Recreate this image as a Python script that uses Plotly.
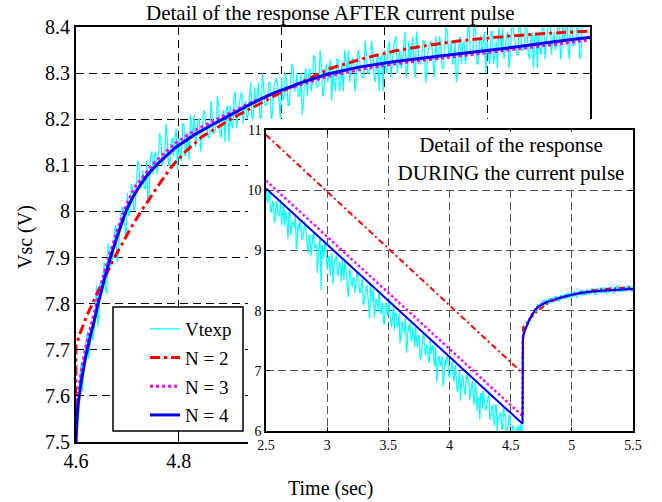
import numpy as np
import plotly.graph_objects as go

W, H = 662, 502
def px(x):
    return x / W
def py(y):
    return 1 - y / H

# ---------------- data ----------------
# measured terminal voltage (Vtexp) during the current pulse, samples every 0.015 s from 2.5 s
v_during = [
    9.99, 9.79, 10.00, 9.64, 9.80, 9.49, 9.79, 9.57, 9.84, 9.60,
    9.40, 9.63, 9.18, 9.63, 9.39, 9.46, 9.60, 9.18, 9.33, 9.43,
    9.19, 9.48, 9.23, 8.95, 9.25, 9.03, 9.28, 9.05, 8.63, 9.13,
    8.34, 9.02, 9.17, 8.78, 8.87, 8.58, 8.96, 8.70, 8.84, 8.58,
    8.81, 8.47, 8.67, 8.85, 8.53, 8.22, 8.66, 8.39, 8.53, 8.42,
    8.60, 8.30, 8.45, 8.09, 8.32, 8.43, 8.08, 8.45, 8.14, 7.88,
    8.20, 7.97, 8.24, 7.98, 7.82, 8.11, 7.96, 8.18, 7.79, 7.90,
    7.67, 7.96, 7.76, 7.46, 7.83, 7.62, 7.88, 7.43, 7.66, 7.54,
    7.73, 7.40, 7.53, 7.60, 7.19, 7.40, 7.64, 7.26, 7.41, 7.13,
    7.28, 7.43, 7.07, 6.82, 7.25, 7.07, 7.25, 6.86, 7.09, 7.22,
    6.88, 7.07, 6.90, 7.10, 6.70, 6.87, 6.50, 6.93, 6.70, 6.80,
    6.86, 6.52, 6.73, 6.58, 6.81, 6.33, 6.54, 6.62, 6.37, 6.49,
    6.36, 6.57, 6.18, 6.40, 6.22, 6.42, 5.99, 6.21, 6.30, 6.03,
    6.26, 5.90, 6.10, 6.24, 5.91, 6.05, 5.81, 6.08, 5.87, 6.05,
]
# in-between samples (0.0075 s after each of the above)
v_during_mid = [
    9.84, 9.97, 9.64, 9.82, 9.46, 9.81, 9.59, 9.67, 9.42, 9.78,
    9.65, 9.42, 9.64, 9.25, 9.47, 9.38, 8.99, 9.43, 9.49, 9.18,
    9.28, 9.41, 9.07, 9.25, 8.90, 9.25, 9.03, 9.11, 8.85, 9.22,
    9.09, 8.86, 9.08, 8.68, 8.91, 8.82, 8.43, 8.87, 8.92, 8.61,
    8.72, 8.85, 8.51, 8.69, 8.33, 8.69, 8.47, 8.55, 8.29, 8.65,
    8.53, 8.30, 8.52, 8.12, 8.34, 8.25, 7.87, 8.31, 8.36, 8.05,
    8.15, 8.29, 7.95, 8.13, 7.77, 8.12, 7.91, 7.99, 7.73, 8.09,
    7.96, 7.73, 7.96, 7.56, 7.78, 7.69, 7.30, 7.75, 7.80, 7.49,
    7.59, 7.72, 7.39, 7.57, 7.21, 7.56, 7.34, 7.42, 7.17, 7.53,
    7.40, 7.17, 7.39, 7.00, 7.22, 7.13, 6.74, 7.18, 7.24, 6.93,
    7.03, 7.16, 6.82, 7.00, 6.65, 7.00, 6.78, 6.86, 6.60, 6.97,
    6.84, 6.61, 6.83, 6.43, 6.66, 6.57, 6.18, 6.62, 6.67, 6.36,
    6.47, 6.60, 6.26, 6.44, 6.08, 6.44, 6.22, 6.30, 6.04, 6.40,
    6.28, 6.05, 6.27, 5.87, 6.09, 6.00, 5.62, 6.06, 6.11, 5.80,
]
# measured terminal voltage after the pulse, samples every 0.005 s from 4.6 s
v_after = [
    7.52, 7.56, 7.67, 7.65, 7.72, 7.68, 7.75, 7.74, 7.84, 7.78,
    7.82, 7.89, 7.82, 7.91, 7.89, 7.96, 7.89, 7.97, 8.01, 7.97,
    8.04, 8.00, 8.05, 8.01, 8.11, 8.05, 8.09, 8.05, 8.02, 8.12,
    8.08, 8.13, 8.11, 8.16, 8.11, 8.19, 8.10, 8.15, 8.12, 8.18,
    8.16, 8.11, 8.19, 8.14, 8.11, 8.19, 8.21, 8.16, 8.20, 8.15,
    8.22, 8.18, 8.16, 8.21, 8.17, 8.25, 8.17, 8.21, 8.15, 8.23,
    8.23, 8.18, 8.26, 8.21, 8.25, 8.19, 8.24, 8.21, 8.28, 8.21,
    8.23, 8.28, 8.19, 8.27, 8.23, 8.28, 8.19, 8.27, 8.29, 8.24,
    8.29, 8.25, 8.28, 8.23, 8.32, 8.26, 8.30, 8.25, 8.21, 8.30,
    8.25, 8.31, 8.28, 8.33, 8.27, 8.35, 8.25, 8.31, 8.28, 8.33,
    8.31, 8.26, 8.33, 8.28, 8.26, 8.33, 8.35, 8.30, 8.33, 8.28,
    8.35, 8.30, 8.29, 8.34, 8.30, 8.37, 8.29, 8.33, 8.26, 8.34,
    8.35, 8.30, 8.37, 8.32, 8.37, 8.30, 8.35, 8.32, 8.39, 8.31,
    8.33, 8.38, 8.29, 8.36, 8.32, 8.37, 8.28, 8.35, 8.37, 8.32,
    8.38, 8.33, 8.36, 8.31, 8.40, 8.34, 8.37, 8.32, 8.28, 8.37,
    8.32, 8.37, 8.34, 8.40, 8.34, 8.42, 8.32, 8.37, 8.34, 8.39,
    8.37, 8.32, 8.39, 8.34, 8.31, 8.38, 8.40, 8.35, 8.39, 8.34,
    8.41, 8.36, 8.34, 8.39, 8.35, 8.42, 8.34, 8.38, 8.31, 8.39,
    8.39, 8.34, 8.41, 8.37, 8.41, 8.34, 8.39, 8.36, 8.43, 8.35,
    8.37, 8.42, 8.33, 8.40, 8.36, 8.41, 8.33, 8.40, 8.42,
]
# in-between samples after the pulse (0.0025 s after each of the above)
v_after_mid = [
    7.53, 7.64, 7.61, 7.69, 7.74, 7.72, 7.72, 7.79, 7.75, 7.85,
    7.85, 7.83, 7.93, 7.88, 7.91, 7.97, 7.91, 7.99, 8.00, 7.94,
    7.99, 8.06, 8.00, 8.06, 8.10, 8.06, 8.05, 8.11, 8.04, 8.13,
    8.12, 8.08, 8.17, 8.10, 8.12, 8.16, 8.10, 8.16, 8.16, 8.09,
    8.13, 8.19, 8.12, 8.17, 8.21, 8.16, 8.14, 8.20, 8.13, 8.21,
    8.19, 8.16, 8.24, 8.17, 8.19, 8.23, 8.16, 8.22, 8.22, 8.15,
    8.19, 8.25, 8.18, 8.23, 8.26, 8.22, 8.20, 8.25, 8.19, 8.27,
    8.25, 8.21, 8.30, 8.23, 8.24, 8.28, 8.22, 8.28, 8.27, 8.20,
    8.24, 8.30, 8.23, 8.28, 8.31, 8.27, 8.25, 8.30, 8.23, 8.31,
    8.30, 8.26, 8.34, 8.27, 8.28, 8.32, 8.26, 8.32, 8.31, 8.24,
    8.28, 8.33, 8.26, 8.32, 8.35, 8.30, 8.28, 8.33, 8.26, 8.34,
    8.32, 8.29, 8.37, 8.30, 8.31, 8.35, 8.28, 8.34, 8.33, 8.26,
    8.31, 8.36, 8.29, 8.35, 8.38, 8.33, 8.31, 8.36, 8.29, 8.37,
    8.35, 8.31, 8.39, 8.32, 8.33, 8.37, 8.30, 8.36, 8.36, 8.29,
    8.33, 8.38, 8.31, 8.36, 8.39, 8.34, 8.32, 8.37, 8.30, 8.38,
    8.36, 8.32, 8.40, 8.34, 8.35, 8.39, 8.32, 8.38, 8.37, 8.30,
    8.34, 8.39, 8.32, 8.37, 8.40, 8.35, 8.33, 8.38, 8.31, 8.40,
    8.38, 8.34, 8.42, 8.35, 8.36, 8.40, 8.33, 8.39, 8.38, 8.31,
    8.35, 8.41, 8.33, 8.39, 8.42, 8.37, 8.35, 8.40, 8.33, 8.41,
    8.39, 8.35, 8.43, 8.36, 8.37, 8.41, 8.34, 8.40,
]
t_during = 2.5 + 0.015 * np.arange(len(v_during))
t_during_mid = 2.5075 + 0.015 * np.arange(len(v_during_mid))
t_after = 4.6 + 0.005 * np.arange(len(v_after))
t_after_mid = 4.6025 + 0.005 * np.arange(len(v_after_mid))
t_all = np.concatenate([t_during, t_during_mid, t_after, t_after_mid])
v_all = np.concatenate([v_during, v_during_mid, v_after, v_after_mid])
order = np.argsort(t_all, kind="stable")
t_exp, v_exp = t_all[order], v_all[order]

# model N = 2
n2_t = [2.5, 4.597, 4.600, 4.610, 4.620, 4.632, 4.645, 4.660, 4.6745, 4.690,
        4.707, 4.7265, 4.745, 4.765, 4.788, 4.815, 4.845, 4.875, 4.905, 4.945,
        4.983, 5.030, 5.094, 5.160, 5.224, 5.290, 5.353, 5.450, 5.530, 5.600]
n2_v = [10.92, 6.96, 7.71, 7.742, 7.771, 7.800, 7.832, 7.866, 7.900, 7.930,
        7.965, 8.000, 8.031, 8.064, 8.100, 8.132, 8.162, 8.182, 8.203, 8.226,
        8.249, 8.276, 8.310, 8.332, 8.349, 8.361, 8.371, 8.381, 8.387, 8.391]
# model N = 3
n3_t = [2.5, 4.597, 4.600, 4.603, 4.606, 4.612, 4.620, 4.630, 4.640, 4.652,
        4.665, 4.680, 4.697, 4.715, 4.730, 4.746, 4.770, 4.795, 4.830, 4.865,
        4.900, 4.940, 4.983, 5.040, 5.090, 5.150, 5.220, 5.300, 5.353, 5.450,
        5.530, 5.600]
n3_v = [10.16, 6.25, 7.55, 7.59, 7.62, 7.665, 7.71, 7.755, 7.80, 7.855,
        7.905, 7.958, 8.012, 8.054, 8.075, 8.098, 8.125, 8.149, 8.175, 8.195,
        8.214, 8.236, 8.256, 8.276, 8.293, 8.307, 8.320, 8.331, 8.338, 8.351,
        8.362, 8.372]
# model N = 4
n4_t = [2.5, 4.597, 4.600, 4.602, 4.604, 4.6064, 4.610, 4.614, 4.618, 4.622,
        4.628, 4.635, 4.643, 4.650, 4.658, 4.667, 4.677, 4.687, 4.697, 4.710,
        4.723, 4.735, 4.746, 4.760, 4.777, 4.795, 4.830, 4.865, 4.900, 4.940,
        4.983, 5.040, 5.090, 5.150, 5.220, 5.300, 5.353, 5.450, 5.530, 5.600]
n4_v = [10.03, 6.12, 7.50, 7.55, 7.58, 7.60, 7.63, 7.655, 7.68, 7.70,
        7.73, 7.76, 7.80, 7.83, 7.865, 7.90, 7.935, 7.968, 8.00, 8.030,
        8.054, 8.073, 8.088, 8.104, 8.122, 8.140, 8.166, 8.188, 8.209, 8.233,
        8.256, 8.280, 8.298, 8.313, 8.325, 8.336, 8.343, 8.356, 8.368, 8.378]

names = ["Vtexp", "N = 2", "N = 3", "N = 4"]

# main-axis ticks (only the first two labels are visible beside the inset)
main_xticks = [4.6, 4.8, 5.0, 5.2, 5.4, 5.6]
main_xlabels = ["4.6", "4.8", "", "", "", ""]

# ---------------- figure ----------------
FONT = "Liberation Serif"
fig = go.Figure()

series = [
    (t_exp, v_exp, "#00FFFF", "solid", 1.2, 1.2),
    (n2_t, n2_v, "#FF0000", "10px,4px,3px,4px", 3, 2),
    (n3_t, n3_v, "#FF00FF", "3px,3px", 3, 2.5),
    (n4_t, n4_v, "#0000FF", "solid", 3, 2),
]

# main (after pulse)
for (tx, vy, col, dash, w_main, w_in), nm in zip(series, names):
    fig.add_trace(go.Scatter(
        x=tx, y=vy, mode="lines", name=nm, legendgroup=nm,
        line=dict(color=col, width=w_main, dash=dash, simplify=False),
        xaxis="x", yaxis="y", showlegend=True, hoverinfo="skip"))

# white cover panel (behind the inset)
fig.add_trace(go.Scatter(x=[], y=[], xaxis="x2", yaxis="y2",
                         showlegend=False, hoverinfo="skip"))

# inset (during pulse)
inset_dash = {"#FF0000": "6px,3px,2px,3px", "#FF00FF": "2.5px,2.5px"}
for (tx, vy, col, dash, w_main, w_in), nm in zip(series, names):
    fig.add_trace(go.Scatter(
        x=tx, y=vy, mode="lines", name=nm,
        line=dict(color=col, width=w_in, dash=inset_dash.get(col, dash), simplify=False),
        xaxis="x3", yaxis="y3", showlegend=False, hoverinfo="skip"))

main_ax = dict(showgrid=True, gridcolor="black", griddash="8px,5px", gridwidth=1,
               showline=True, linecolor="black", linewidth=2, mirror="ticks",
               ticks="inside", ticklen=6, tickcolor="black", zeroline=False,
               automargin=False, tickfont=dict(size=20, family=FONT))
inset_ax = dict(showgrid=True, gridcolor="#555555", griddash="8px,4px", gridwidth=1,
                showline=True, linecolor="black", linewidth=1.5, mirror="ticks",
                ticks="inside", ticklen=4, tickcolor="black", zeroline=False,
                automargin=False, tickfont=dict(size=14, family=FONT))

fig.update_layout(
    width=W, height=H, margin=dict(l=0, r=0, t=0, b=0, autoexpand=False),
    paper_bgcolor="white", plot_bgcolor="white",
    font=dict(family=FONT, size=20, color="black"),
    showlegend=True,
    legend=dict(x=px(145), y=py(310), xanchor="left", yanchor="top",
                bgcolor="rgba(0,0,0,0)", borderwidth=0,
                font=dict(size=19, family=FONT), tracegroupgap=1),
    xaxis=dict(domain=[px(76), px(590)], range=[4.6, 5.6],
               tickvals=main_xticks, ticktext=main_xlabels,
               anchor="y", **main_ax),
    yaxis=dict(domain=[py(442), py(27)], range=[7.5, 8.4], tick0=7.5, dtick=0.1,
               anchor="x", **main_ax),
    xaxis2=dict(domain=[px(248), 1.0], range=[0, 1], visible=False, anchor="y2",
                automargin=False),
    yaxis2=dict(domain=[py(478), py(119)], range=[0, 1], visible=False, anchor="x2",
                automargin=False),
    xaxis3=dict(domain=[px(266), px(633)], range=[2.5, 5.5], dtick=0.5,
                anchor="y3", **inset_ax),
    yaxis3=dict(domain=[py(431), py(130)], range=[6, 11], dtick=1,
                anchor="x3", **inset_ax),
)

# legend frame
fig.add_shape(type="rect", xref="paper", yref="paper",
              x0=px(113), x1=px(243), y0=py(431), y1=py(307),
              line=dict(color="black", width=1.5), fillcolor="white", layer="above")

ann = [
    dict(text="Detail of the response AFTER current pulse", x=px(330), y=py(13),
         xanchor="center", yanchor="middle", font=dict(size=21, family=FONT)),
    dict(text="Time (sec)", x=px(330), y=py(488), xanchor="center", yanchor="middle",
         font=dict(size=20, family=FONT)),
    dict(text="Vsc (V)", x=px(25), y=py(237), xanchor="center", yanchor="middle",
         textangle=-90, font=dict(size=20, family=FONT)),
    dict(text="Detail of the response<br>DURING the current pulse", x=px(390), y=py(131),
         xanchor="left", yanchor="top", width=240, height=54, align="center",
         bgcolor="white", borderpad=0, font=dict(size=21, family=FONT)),
]
for a in ann:
    fig.add_annotation(xref="paper", yref="paper", showarrow=False, **a)

fig.write_html("out.html")
